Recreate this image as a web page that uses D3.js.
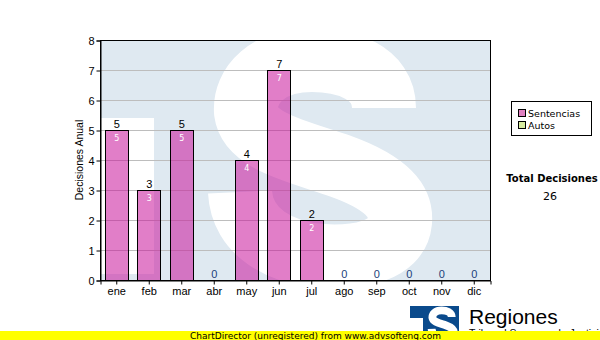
<!DOCTYPE html>
<html>
<head>
<meta charset="utf-8">
<script src="https://cdn.jsdelivr.net/npm/d3@7"></script>
<style>
  body { margin: 0; background: #fff; }
  svg { display: block; }
</style>
</head>
<body>
<script>

// Chart data
const months = ["ene", "feb", "mar", "abr", "may", "jun", "jul", "ago", "sep", "oct", "nov", "dic"];
const sentencias = [5, 3, 5, 0, 4, 7, 2, 0, 0, 0, 0, 0];
const autos = [0, 0, 0, 0, 0, 0, 0, 0, 0, 0, 0, 0];
const seriesNames = ["Sentencias", "Autos"];
const yTicks = [0, 1, 2, 3, 4, 5, 6, 7, 8];

const W = 600, H = 340;
const plot = { left: 100, top: 40, right: 490, bottom: 280 };
const AXIS_FONT = "'Liberation Sans', Arial, sans-serif";
const UI_FONT = "'DejaVu Sans', Verdana, sans-serif";
const BG_BLUE = "#dfe9f1";
const LOGO_BLUE = "#0a4a8c";

let svg = d3.select("body").append("svg")
    .attr("width", W)
    .attr("height", H);

// centre line of the big "S" of the logo, in watermark coordinates
const S_PATH = "M 384 108 C 384 72, 345 60, 312 60 C 268 60, 244 85, 246 112 "
    + "C 250 142, 300 152, 340 166 C 385 182, 402 200, 400 222 "
    + "C 397 252, 356 258, 322 256 C 280 253, 242 232, 240 192";

let x = d3.scaleBand()
    .domain(months)
    .range([plot.left, plot.right])
    .paddingInner(0.29)
    .paddingOuter(0.145);

let y = d3.scaleLinear()
    .domain([0, 8])
    .range([plot.bottom, plot.top]);

// watermark in plot background
svg.append("clipPath")
    .attr("id", "plot-clip")
    .append("rect")
        .attr("x", plot.left)
        .attr("y", plot.top)
        .attr("width", plot.right - plot.left)
        .attr("height", plot.bottom - plot.top);

let bg = svg.append("g").attr("clip-path", "url(#plot-clip)");
bg.append("rect")
    .attr("x", plot.left)
    .attr("y", plot.top)
    .attr("width", plot.right - plot.left)
    .attr("height", plot.bottom - plot.top)
    .attr("fill", BG_BLUE);
bg.append("rect")
    .attr("x", plot.left)
    .attr("y", 118)
    .attr("width", 54)
    .attr("height", 156)
    .attr("fill", "#fff");
bg.append("path")
    .attr("d", S_PATH)
    .attr("fill", "none")
    .attr("stroke", "#fff")
    .attr("stroke-width", 64)
    .attr("stroke-linecap", "butt");

// grid lines
svg.append("g")
    .selectAll("line")
    .data(yTicks.filter(d => d > 0 && d < 8))
    .enter()
    .append("line")
        .attr("x1", plot.left)
        .attr("x2", plot.right)
        .attr("y1", d => y(d) + 0.5)
        .attr("y2", d => y(d) + 0.5)
        .attr("stroke", "#bdbdbd")
        .attr("stroke-width", 1);

// stacked bars
let table = months.map((m, i) => ({ month: m, Sentencias: sentencias[i], Autos: autos[i] }));
let stacked = d3.stack().keys(seriesNames)(table);
let color = d3.scaleOrdinal()
    .domain(seriesNames)
    .range(["#c8149a", "#b4d25a"]);

let layers = svg.append("g")
    .selectAll("g")
    .data(stacked)
    .enter()
    .append("g")
        .attr("fill", d => color(d.key))
        .attr("fill-opacity", 0.55);

layers.selectAll("rect")
    .data(d => d.filter(p => p[1] - p[0] > 0))
    .enter()
    .append("rect")
        .attr("x", d => Math.round(x(d.data.month)) + 0.5)
        .attr("y", d => y(d[1]) + 0.5)
        .attr("width", Math.round(x.bandwidth()))
        .attr("height", d => y(d[0]) - y(d[1]))
        .attr("stroke", "#000")
        .attr("stroke-opacity", 1)
        .attr("stroke-width", 1);

// labels inside the bars
svg.append("g")
    .selectAll("text")
    .data(table.filter(d => d.Sentencias > 0))
    .enter()
    .append("text")
        .attr("x", d => x(d.month) + x.bandwidth() / 2 + 0.5)
        .attr("y", d => y(d.Sentencias) + 11)
        .attr("text-anchor", "middle")
        .attr("font-family", UI_FONT)
        .attr("font-size", 8)
        .attr("fill", "#fff")
        .text(d => d.Sentencias);

// totals above the bars
svg.append("g")
    .selectAll("text")
    .data(table)
    .enter()
    .append("text")
        .attr("x", d => x(d.month) + x.bandwidth() / 2 + 0.5)
        .attr("y", d => y(d.Sentencias + d.Autos) - 2)
        .attr("text-anchor", "middle")
        .attr("font-family", AXIS_FONT)
        .attr("font-size", 11)
        .attr("fill", d => (d.Sentencias + d.Autos) === 0 ? "#1b3f7a" : "#000")
        .text(d => d.Sentencias + d.Autos);

// plot frame
svg.append("rect")
    .attr("x", plot.left + 0.5)
    .attr("y", plot.top + 0.5)
    .attr("width", plot.right - plot.left)
    .attr("height", plot.bottom - plot.top)
    .attr("fill", "none")
    .attr("stroke", "#000");

// axes
let yAxis = svg.append("g")
    .attr("transform", "translate(" + (plot.left + 0.5) + ",0.5)")
    .call(d3.axisLeft(y).tickValues(yTicks).tickSize(4).tickPadding(2).tickFormat(d3.format("d")));
let xAxis = svg.append("g")
    .attr("transform", "translate(0.5," + (plot.bottom + 0.5) + ")")
    .call(d3.axisBottom(x).tickSize(4).tickPadding(3));

[yAxis, xAxis].forEach(a =>
{
  a.select(".domain").attr("stroke", "#000").attr("stroke-width", 1);
  a.selectAll(".tick line").attr("stroke", "#000");
  a.selectAll("text")
      .attr("font-family", AXIS_FONT)
      .attr("font-size", 11)
      .attr("fill", "#000");
});

svg.append("text")
    .attr("transform", "translate(83,160) rotate(-90)")
    .attr("text-anchor", "middle")
    .attr("font-family", AXIS_FONT)
    .attr("font-size", 10.5)
    .attr("fill", "#000")
    .text("Decisiones Anual");

// legend
let legend = svg.append("g");
legend.append("rect")
    .attr("x", 511.5)
    .attr("y", 101.5)
    .attr("width", 80)
    .attr("height", 34)
    .attr("fill", "#fff")
    .attr("stroke", "#000");

let items = legend.selectAll("g")
    .data(seriesNames)
    .enter()
    .append("g")
        .attr("transform", (d, i) => "translate(518," + (109 + i * 12) + ")");
items.append("rect")
    .attr("x", 0.5)
    .attr("y", 0.5)
    .attr("width", 7)
    .attr("height", 7)
    .attr("fill", (d, i) => ["#e080c0", "#d8eca0"][i])
    .attr("stroke", "#000");
items.append("text")
    .attr("x", 10)
    .attr("y", 8)
    .attr("font-family", UI_FONT)
    .attr("font-size", 9.5)
    .attr("fill", "#000")
    .text(d => d);

let total = d3.sum(sentencias) + d3.sum(autos);
svg.append("text")
    .attr("x", 552)
    .attr("y", 182)
    .attr("text-anchor", "middle")
    .attr("font-family", UI_FONT)
    .attr("font-size", 10)
    .attr("font-weight", "bold")
    .attr("fill", "#000")
    .text("Total Decisiones");
svg.append("text")
    .attr("x", 550)
    .attr("y", 200)
    .attr("text-anchor", "middle")
    .attr("font-family", UI_FONT)
    .attr("font-size", 11)
    .attr("fill", "#000")
    .text(total);

// small logo bottom right
let logo = svg.append("g");
logo.append("rect")
    .attr("x", 410)
    .attr("y", 306)
    .attr("width", 49)
    .attr("height", 30)
    .attr("fill", LOGO_BLUE);
logo.append("rect")
    .attr("x", 410)
    .attr("y", 318)
    .attr("width", 13)
    .attr("height", 18)
    .attr("fill", "#fff");
logo.append("path")
    .attr("d", S_PATH)
    .attr("transform", "translate(398,302) scale(0.14)")
    .attr("fill", "none")
    .attr("stroke", "#fff")
    .attr("stroke-width", 56);
svg.append("text")
    .attr("x", 469)
    .attr("y", 324)
    .attr("font-family", AXIS_FONT)
    .attr("font-size", 21)
    .attr("fill", "#000")
    .text("Regiones");
svg.append("text")
    .attr("x", 469)
    .attr("y", 337)
    .attr("font-family", AXIS_FONT)
    .attr("font-size", 10.5)
    .attr("fill", "#000")
    .text("Tribunal Supremo de Justicia");

// unregistered banner
svg.append("rect")
    .attr("x", 0)
    .attr("y", 331)
    .attr("width", W)
    .attr("height", 9)
    .attr("fill", "#ffff00");
svg.append("text")
    .attr("x", 190)
    .attr("y", 339)
    .attr("font-family", UI_FONT)
    .attr("font-size", 9)
    .attr("fill", "#000")
    .text("ChartDirector (unregistered) from www.advsofteng.com");

</script>
</body>
</html>
